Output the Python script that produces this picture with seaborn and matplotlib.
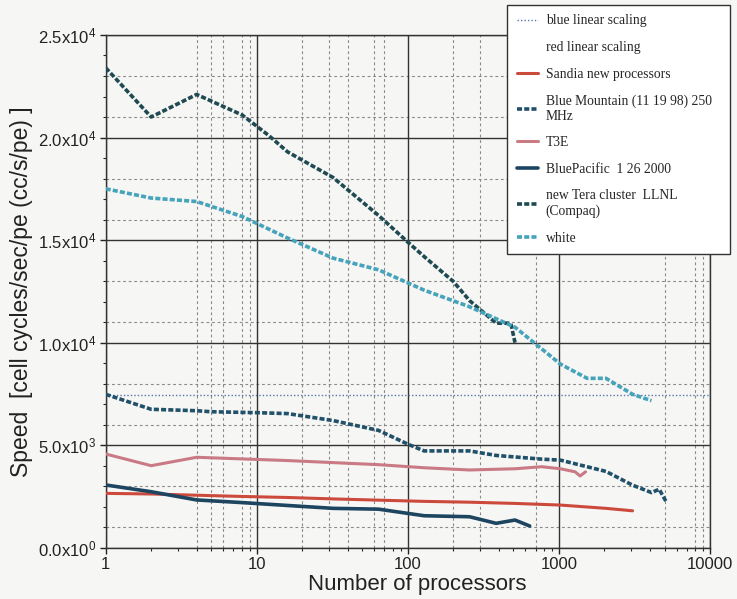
import matplotlib
matplotlib.use("Agg")
import matplotlib.pyplot as plt
import matplotlib.ticker as mticker
import pandas as pd
import seaborn as sns

# processors / speed (cc/s/pe)
tera_procs = [1, 2, 4, 8, 12, 16, 32, 64, 100, 128, 200, 256, 384, 480, 512]
tera_speed = [23400, 21000, 22100, 21100, 20100, 19300, 18050, 16200, 14900,
              14200, 12980, 12050, 10950, 10950, 10000]

white_procs = [1, 2, 4, 8, 16, 32, 64, 128, 256, 512, 1024, 1536, 2048, 3072, 4096]
white_speed = [17500, 17050, 16880, 16150, 15100, 14120, 13550, 12560, 11750,
               10750, 8950, 8260, 8260, 7480, 7170]

bluemtn_procs = [1, 2, 4, 5, 10, 16, 32, 64, 100, 128, 256, 384, 768, 1024,
                 2048, 3072, 4096, 4608, 5120]
bluemtn_speed = [7480, 6750, 6680, 6630, 6585, 6540, 6200, 5720, 5050, 4720,
                 4720, 4500, 4320, 4270, 3720, 3050, 2690, 2850, 2250]

t3e_procs = [1, 2, 4, 8, 16, 32, 64, 128, 256, 512, 768, 1024, 1280, 1380, 1500]
t3e_speed = [4570, 4000, 4410, 4330, 4250, 4150, 4050, 3900, 3790, 3850,
             3950, 3850, 3700, 3500, 3700]

sandia_procs = [1, 2, 4, 8, 16, 32, 64, 128, 256, 512, 1024, 2048, 3072]
sandia_speed = [2650, 2620, 2560, 2500, 2450, 2380, 2320, 2260, 2220, 2160,
                2080, 1920, 1800]

bluepac_procs = [1, 2, 4, 8, 16, 32, 64, 128, 256, 384, 512, 640]
bluepac_speed = [3060, 2730, 2330, 2200, 2060, 1920, 1880, 1560, 1510, 1190,
                 1350, 1060]

scaling_procs = [1, 10000]
blue_scaling = [7450, 7450]
red_scaling = [2650, 2650]

x_ticks = [1, 10, 100, 1000, 10000]
x_minor_grid = [4, 5, 6, 8, 9, 20, 30, 40, 60, 70, 200, 300, 700, 5000, 8000, 9000]
y_ticks = [0, 5000, 10000, 15000, 20000, 25000]
y_tick_labels = [r"$\mathregular{0.0x10^0}$", r"$\mathregular{5.0x10^3}$",
                 r"$\mathregular{1.0x10^4}$", r"$\mathregular{1.5x10^4}$",
                 r"$\mathregular{2.0x10^4}$", r"$\mathregular{2.5x10^4}$"]
y_minor_grid = [1000, 3000, 6000, 8000, 11000, 13000, 16000, 18000, 21000, 23000]

sns.set_style("white")
plt.rcParams["font.family"] = ["Liberation Sans", "DejaVu Sans"]
plt.rcParams["mathtext.fontset"] = "custom"
plt.rcParams["mathtext.rm"] = "Liberation Sans"

bg = "#f6f6f4"
fig = plt.figure(figsize=(7.37, 5.99), dpi=100, facecolor=bg)
ax = fig.add_axes([0.1434, 0.0856, 0.82, 0.856], facecolor=bg)

# grid first so the curves sit on top
for v in y_minor_grid:
    ax.axhline(v, color="#8a8a8a", lw=0.8, ls=(0, (2.5, 2.5)), zorder=0)
for v in x_minor_grid:
    ax.axvline(v, color="#8a8a8a", lw=0.8, ls=(0, (2.5, 2.5)), zorder=0)
for v in y_ticks:
    ax.axhline(v, color="#333333", lw=1.0, zorder=0)
for v in x_ticks:
    ax.axvline(v, color="#333333", lw=1.0, zorder=0)

dots = (0, (1.4, 0.6))

def draw(x, y, label, color, ls="-", lw=2.2):
    df = pd.DataFrame({"procs": x, "speed": y})
    sns.lineplot(data=df, x="procs", y="speed", ax=ax, label=label,
                 color=color, linestyle=ls, linewidth=lw, sort=False,
                 estimator=None, zorder=3)

draw(scaling_procs, blue_scaling, "blue linear scaling", "#5577aa", ls=(0, (1, 1.5)), lw=1.0)
draw(scaling_procs, red_scaling, "red linear scaling", "none", lw=1.0)
draw(sandia_procs, sandia_speed, "Sandia new processors", "#cc4a3c")
draw(bluemtn_procs, bluemtn_speed, "Blue Mountain (11 19 98) 250\nMHz", "#21506a", ls=dots, lw=2.6)
draw(t3e_procs, t3e_speed, "T3E", "#c97a84")
draw(bluepac_procs, bluepac_speed, "BluePacific  1 26 2000", "#1d4560", lw=2.6)
draw(tera_procs, tera_speed, "new Tera cluster  LLNL\n(Compaq)", "#1f4a52", ls=dots, lw=2.6)
draw(white_procs, white_speed, "white", "#45a3bb", ls=dots, lw=2.6)

ax.set_xscale("log")
ax.set_xlim(1, 10000)
ax.set_ylim(0, 25000)
ax.xaxis.set_major_locator(mticker.FixedLocator(x_ticks))
ax.xaxis.set_major_formatter(mticker.FixedFormatter([str(v) for v in x_ticks]))
ax.xaxis.set_minor_locator(mticker.LogLocator(base=10, subs=range(2, 10)))
ax.xaxis.set_minor_formatter(mticker.NullFormatter())
ax.yaxis.set_major_locator(mticker.FixedLocator(y_ticks))
ax.yaxis.set_major_formatter(mticker.FixedFormatter(y_tick_labels))
ax.yaxis.set_minor_locator(mticker.MultipleLocator(1000))
ax.tick_params(which="major", direction="out", length=4, width=1, labelsize=12,
               colors="#222222", left=True, bottom=True, pad=3)
ax.tick_params(which="minor", direction="out", length=2.5, width=0.8,
               left=True, bottom=True)
for s in ax.spines.values():
    s.set_color("#333333")
    s.set_linewidth(1.0)

ax.set_xlabel("Number of processors", fontsize=16, color="#222222")
ax.xaxis.set_label_coords(0.515, -0.052)
ax.set_ylabel("Speed  [cell cycles/sec/pe (cc/s/pe) ]", fontsize=16.5,
              color="#222222")
ax.yaxis.set_label_coords(-0.121, 0.5)

leg = ax.legend(loc="upper left", bbox_to_anchor=(0.688, 0.583, 0.303, 0.409),
                bbox_transform=fig.transFigure, mode="expand", frameon=True,
                fancybox=False, framealpha=1, edgecolor="#333333",
                facecolor="white",
                prop={"family": "Liberation Serif", "size": 9.8},
                handlelength=1.55, handletextpad=0.6, labelspacing=1.0,
                borderpad=0.7, borderaxespad=0)
leg.get_frame().set_linewidth(1.0)
leg.set_zorder(5)

fig.savefig("out.png", dpi=100, facecolor=bg)
